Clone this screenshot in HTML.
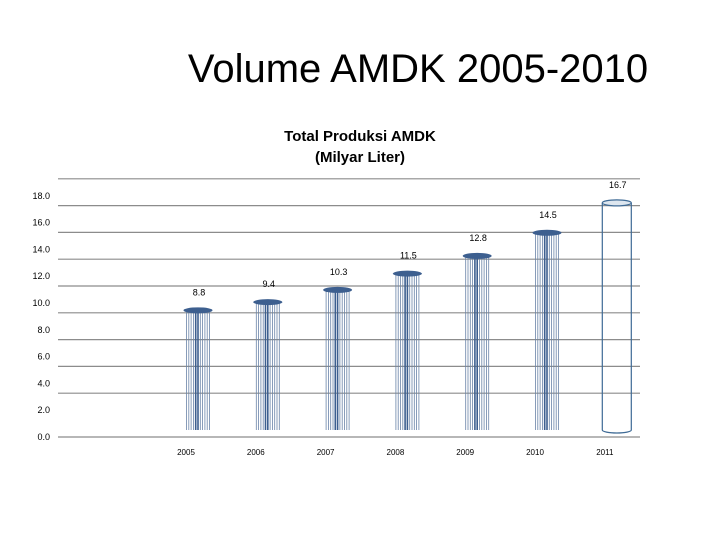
<!DOCTYPE html>
<html><head><meta charset="utf-8"><style>
body{margin:0;background:#fff;width:720px;height:540px;overflow:hidden;font-family:"Liberation Sans",sans-serif}
</style></head><body>
<svg width="720" height="540" font-family="Liberation Sans, sans-serif">
<text x="418" y="82" font-size="40" text-anchor="middle">Volume AMDK 2005-2010</text>
<text x="360" y="141" font-size="15" font-weight="bold" text-anchor="middle">Total Produksi AMDK</text>
<text x="360" y="162" font-size="15" font-weight="bold" text-anchor="middle">(Milyar Liter)</text>
<g id="grid"></g><g id="bars"></g>
</svg>
<script>
const categories=["2005","2006","2007","2008","2009","2010","2011"];
const values=[8.8,9.4,10.3,11.5,12.8,14.5,16.7];
const valueLabels=["8.8","9.4","10.3","11.5","12.8","14.5","16.7"];
const ticks=[0,2,4,6,8,10,12,14,16,18];
const tickLabels=["0.0","2.0","4.0","6.0","8.0","10.0","12.0","14.0","16.0","18.0"];
const NS="http://www.w3.org/2000/svg";
const ppu=13.4;
const yBack=v=>420-v*ppu, yLbl=v=>440-v*ppu, yFront=v=>430-v*13.6;
const xC=i=>198+i*69.8;
function mk(t,a,p){const e=document.createElementNS(NS,t);for(const k in a)e.setAttribute(k,a[k]);p.appendChild(e);return e;}
const g=document.getElementById('grid'),b=document.getElementById('bars');
ticks.forEach((v,i)=>{
 if(v>0){const l=mk('line',{x1:58,x2:640,y1:yBack(v),y2:yBack(v),stroke:'#8c8c8c','stroke-width':1.2},g);
 }
 const t=mk('text',{x:50,y:yLbl(v),'font-size':9,'text-anchor':'end'},g);t.textContent=tickLabels[i];
 
});
const fl=mk('line',{x1:58,x2:640,y1:437,y2:437,stroke:'#8c8c8c','stroke-width':1.2},g);

categories.forEach((c,i)=>{
 const cx=xC(i),top=yFront(values[i]),w=29,x0=cx-w/2,last=i===categories.length-1;
 const grp=mk('g',{},b);
 
 if(last){
  mk('path',{d:`M${x0},${top} L${x0},430 A${w/2},3 0 0 0 ${x0+w},430 L${x0+w},${top}`,fill:'none',stroke:'#3e6a95','stroke-width':1.2},grp);
  mk('ellipse',{cx:cx,cy:top,rx:w/2,ry:3,fill:'#dde6ef',stroke:'#3e6a95','stroke-width':1.2},grp);
 }else{
  for(let k=0;k<=10;k++){const x=x0+3+k*2.3;
   mk('line',{x1:x,x2:x,y1:top,y2:430,stroke:k===4||k===5?'#3d5f8f':'#6a84a8','stroke-width':k===4||k===5?1.6:0.8},grp);}
  mk('ellipse',{cx:cx,cy:top,rx:w/2,ry:3,fill:'#3d5f8f'},grp);
 }
 const vl=mk('text',{x:cx+1,y:top-15,'font-size':9,'text-anchor':'middle'},grp);vl.textContent=valueLabels[i];
 
 const xl=mk('text',{x:cx-12,y:455,'font-size':8,'text-anchor':'middle'},grp);xl.textContent=c;
 
});
</script>
</body></html>
